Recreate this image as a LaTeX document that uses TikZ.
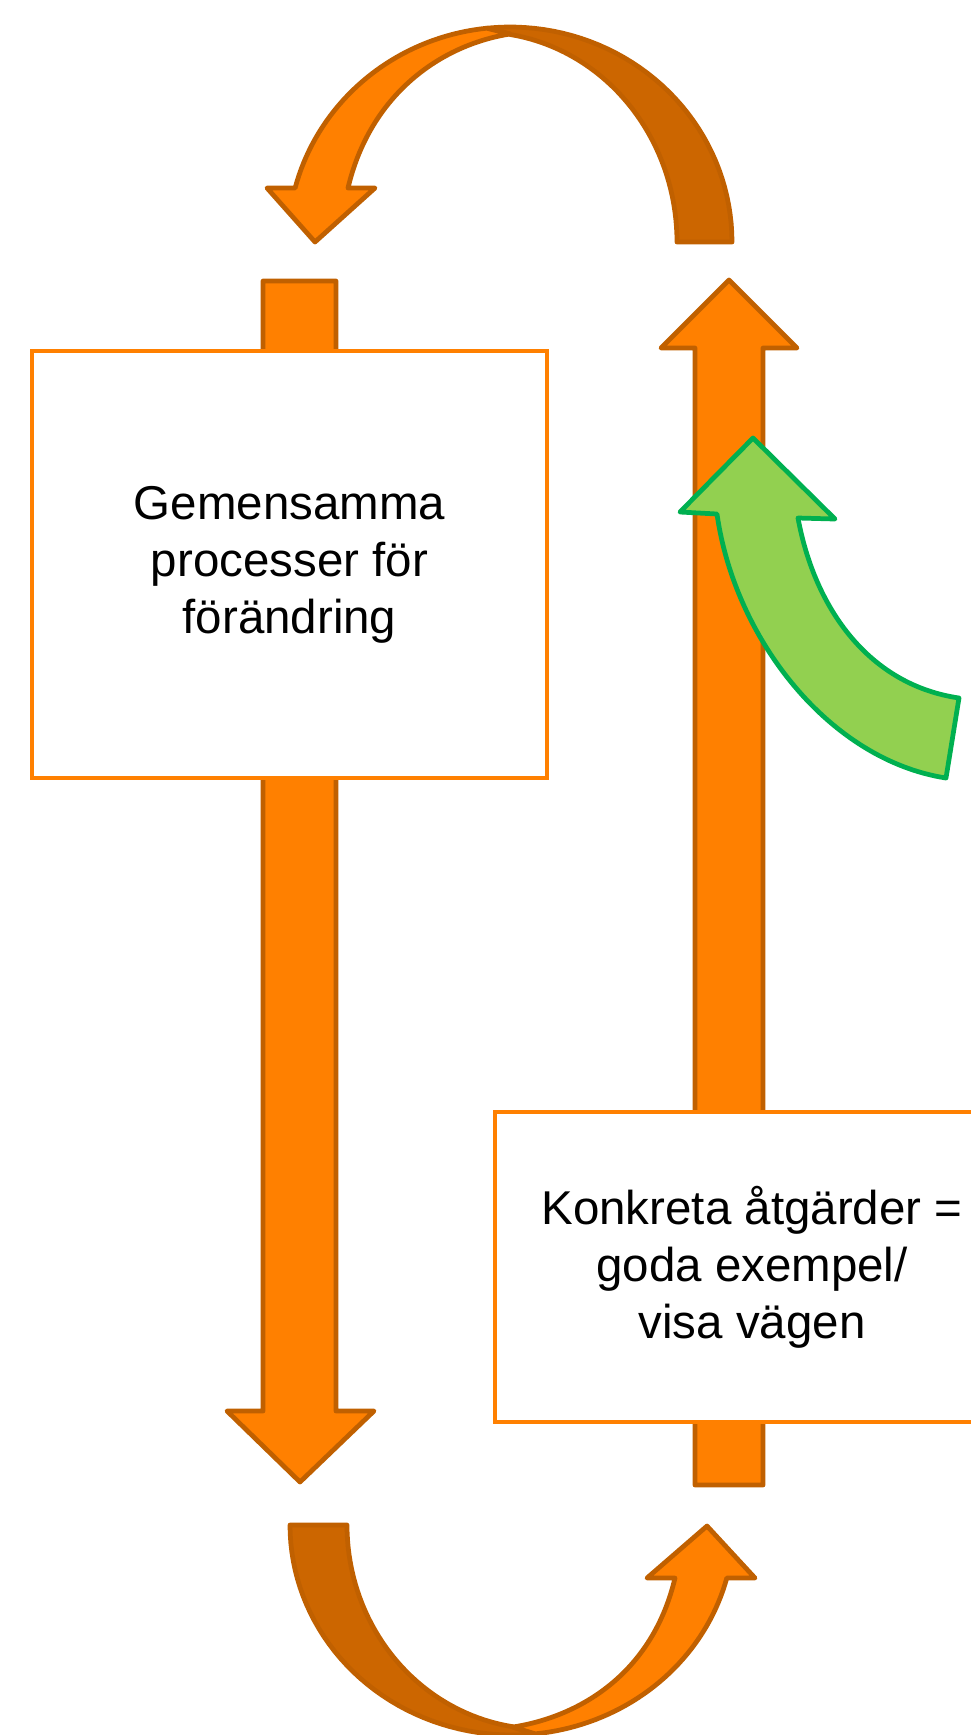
\documentclass[tikz,border=0pt]{standalone}
\usepackage{fontspec}
\setmainfont{Liberation Sans}
\definecolor{orfill}{HTML}{FF8000}
\definecolor{orline}{HTML}{C06000}
\definecolor{ordark}{HTML}{CC6600}
\definecolor{grfill}{HTML}{92D050}
\definecolor{grline}{HTML}{00B050}
\begin{document}
\begin{tikzpicture}[x=0.01cm,y=-0.01cm,
  arr/.style={fill=orfill,draw=orline,line width=1.35pt,line join=round},
  arrdark/.style={fill=ordark,draw=orline,line width=1.35pt,line join=round},
  garr/.style={fill=grfill,draw=grline,line width=1.35pt,line join=round},
  box/.style={draw=orfill,fill=white,line width=1.3pt,align=center,inner sep=0pt,
    font=\fontsize{13.5pt}{16.2pt}\selectfont}]
\useasboundingbox (0,0) rectangle (971,1735);
\clip (0,0) rectangle (971,1735);
% top curved arrow: dark back part
\filldraw[arrdark] (732,242) -- plot[domain=0:96,samples=40] ({510+222*cos(\x)},{242-215*sin(\x)})
  -- (510,34) -- plot[domain=81.2:0,samples=40] ({480+197*cos(\x)},{242-210*sin(\x)}) -- cycle;
% top curved arrow: light front part
\filldraw[arr] plot[domain=96:165.45,samples=40] ({510+222*cos(\x)},{242-215*sin(\x)})
  -- (267,188) -- (315,242) -- (375,188) -- (348,188)
  .. controls (370,95) and (440,45) .. (510,34) -- cycle;
% left straight arrow (down)
\filldraw[arr] (263,281) -- (336,281) -- (336,1411) -- (374,1411) -- (300,1482)
  -- (227,1411) -- (263,1411) -- cycle;
% right straight arrow (up)
\filldraw[arr] (695,1485) -- (763,1485) -- (763,348) -- (797,348) -- (729,280)
  -- (661,348) -- (695,348) -- cycle;
% boxes
\node[box,minimum width=5.15cm,minimum height=4.27cm] (g) at (289.5,564.5)
  {Gemensamma\\processer för\\förändring};
\node[box,minimum width=5.14cm,minimum height=3.10cm] (k) at (752,1267)
  {Konkreta åtgärder =\\goda exempel/\\visa vägen};
% green curved arrow
\filldraw[garr] (946,778) .. controls (830,760) and (735,640) .. (717,514)
  -- (680,512) -- (753,438) -- (835,519) -- (798,518)
  .. controls (815,610) and (870,685) .. (959,698) -- cycle;
% bottom curved arrow: dark back part
\filldraw[arrdark] (290,1525) -- plot[domain=0:96,samples=40] ({512-222*cos(\x)},{1525+210*sin(\x)})
  -- (513,1727) -- plot[domain=81.4:0,samples=40] ({542-195*cos(\x)},{1525+204*sin(\x)}) -- cycle;
% bottom curved arrow: light front part
\filldraw[arr] plot[domain=96:165.4,samples=40] ({512-222*cos(\x)},{1525+210*sin(\x)})
  -- (755,1578) -- (707,1526) -- (647,1578) -- (675,1578)
  .. controls (653,1671) and (583,1716) .. (513,1727) -- cycle;
\end{tikzpicture}
\end{document}
